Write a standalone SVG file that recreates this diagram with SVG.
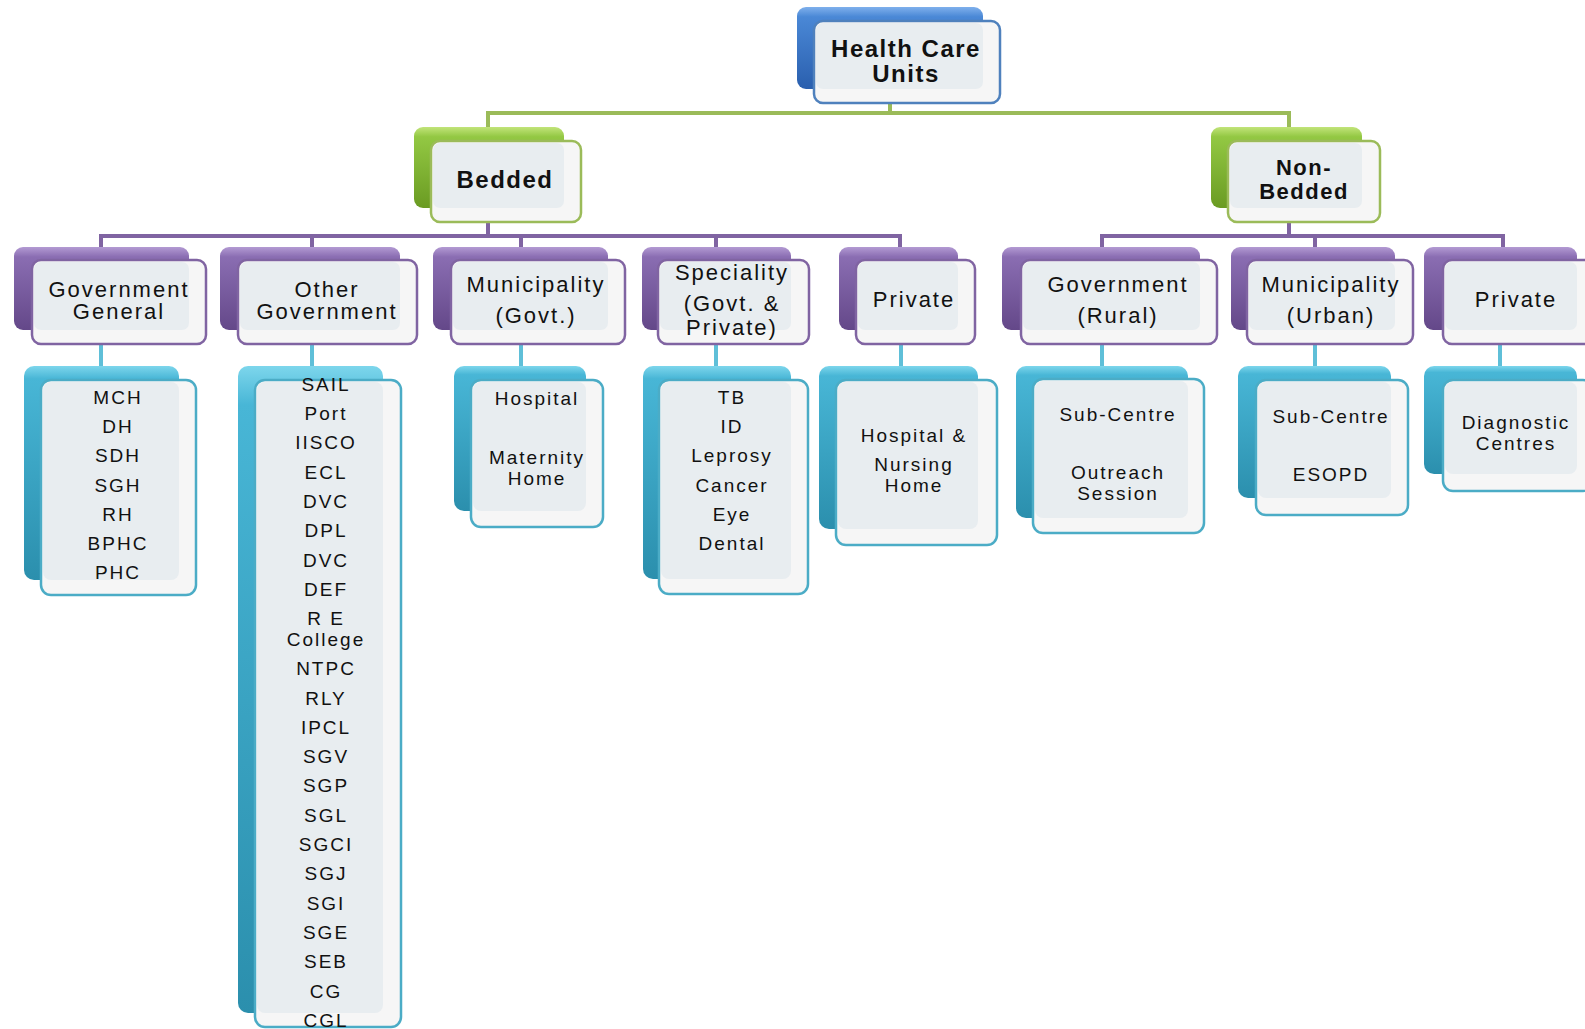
<svg xmlns="http://www.w3.org/2000/svg" width="1585" height="1029" viewBox="0 0 1585 1029">
<defs>
<linearGradient id="gBlue" x1="0" y1="0" x2="0" y2="1"><stop offset="0" stop-color="#7fb0ec"/><stop offset="0.12" stop-color="#4a88d6"/><stop offset="1" stop-color="#2a5fae"/></linearGradient>
<linearGradient id="gGreen" x1="0" y1="0" x2="0" y2="1"><stop offset="0" stop-color="#c2e47a"/><stop offset="0.12" stop-color="#93c843"/><stop offset="1" stop-color="#6a9b22"/></linearGradient>
<linearGradient id="gPurple" x1="0" y1="0" x2="0" y2="1"><stop offset="0" stop-color="#b39ad3"/><stop offset="0.12" stop-color="#8a6db2"/><stop offset="1" stop-color="#644889"/></linearGradient>
<linearGradient id="gTeal" x1="0" y1="0" x2="0" y2="1"><stop offset="0" stop-color="#7dd6ec"/><stop offset="0.06" stop-color="#48b6d6"/><stop offset="1" stop-color="#2b8fad"/></linearGradient>
</defs>
<style>
.bb{fill:url(#gBlue)} .bg{fill:url(#gGreen)} .bp{fill:url(#gPurple)} .bt{fill:url(#gTeal)}
.fr{fill:#f6f6f6;stroke-width:2.5}
.fb{stroke:#4f81bd} .fg{stroke:#9bbb59} .fp{stroke:#8064a2} .ft{stroke:#4bacc6}
.ov{fill:#e8edf0}
text{font-family:"Liberation Sans",Arial,sans-serif;text-anchor:middle;fill:#111}
.t0{font-weight:bold;font-size:24px;letter-spacing:1.5px}
.t1{font-weight:bold;font-size:22px;letter-spacing:1.5px}
.t2{font-size:22px;letter-spacing:2px}
.t3{font-size:19px;letter-spacing:2px}
.cg{stroke:#9bbb59;stroke-width:4;fill:none}
.cp{stroke:#8064a2;stroke-width:4;fill:none}
.ct{stroke:#5fbfd8;stroke-width:4;fill:none}
</style>
<rect width="1585" height="1029" fill="#ffffff"/>
<g id="connectors">
<path class="cg" d="M890,100 V113 M488,130 V113 H1289 V130"/>
<path class="cp" d="M488,220 V236 M101,250 V236 H900 V250 M312,236 V250 M521,236 V250 M716,236 V250"/>
<path class="cp" d="M1289,220 V236 M1102,250 V236 H1503 V250 M1315,236 V250"/>
<path class="ct" d="M101,342 V368 M312,342 V368 M521,342 V368 M716,342 V368 M901,342 V368 M1102,342 V368 M1315,342 V368 M1500,342 V368"/>
</g>
<g id="n-hcu">
<rect class="bb" x="797" y="7" width="186" height="82" rx="9"/>
<rect class="fr fb" x="814" y="21" width="186" height="82" rx="9"/>
<rect class="ov" x="816" y="23" width="167" height="66" rx="7"/>
<text class="t0" x="906" y="57">Health Care</text>
<text class="t0" x="906" y="82">Units</text>
</g>
<g id="n-bedded">
<rect class="bg" x="414" y="127" width="150" height="81" rx="9"/>
<rect class="fr fg" x="431" y="141" width="150" height="81" rx="9"/>
<rect class="ov" x="433" y="143" width="131" height="65" rx="7"/>
<text class="t0" x="505" y="188">Bedded</text>
</g>
<g id="n-nonbedded">
<rect class="bg" x="1211" y="127" width="151" height="81" rx="9"/>
<rect class="fr fg" x="1228" y="141" width="152" height="81" rx="9"/>
<rect class="ov" x="1230" y="143" width="132" height="65" rx="7"/>
<text class="t1" x="1304" y="175">Non-</text>
<text class="t1" x="1304" y="199">Bedded</text>
</g>
<g id="n-govgen">
<rect class="bp" x="14" y="247" width="175" height="83" rx="9"/>
<rect class="fr fp" x="32" y="260" width="174" height="84" rx="9"/>
<rect class="ov" x="34" y="262" width="155" height="68" rx="7"/>
<text class="t2" x="119" y="297">Government</text>
<text class="t2" x="119" y="319">General</text>
</g>
<g id="n-othergov">
<rect class="bp" x="220" y="247" width="180" height="83" rx="9"/>
<rect class="fr fp" x="238" y="260" width="179" height="84" rx="9"/>
<rect class="ov" x="240" y="262" width="160" height="68" rx="7"/>
<text class="t2" x="327" y="297">Other</text>
<text class="t2" x="327" y="319">Government</text>
</g>
<g id="n-munigovt">
<rect class="bp" x="433" y="247" width="175" height="83" rx="9"/>
<rect class="fr fp" x="451" y="260" width="174" height="84" rx="9"/>
<rect class="ov" x="453" y="262" width="155" height="68" rx="7"/>
<text class="t2" x="536" y="292">Municipality</text>
<text class="t2" x="536" y="323">(Govt.)</text>
</g>
<g id="n-speciality">
<rect class="bp" x="642" y="247" width="149" height="83" rx="9"/>
<rect class="fr fp" x="658" y="260" width="151" height="84" rx="9"/>
<rect class="ov" x="660" y="262" width="131" height="68" rx="7"/>
<text class="t2" x="732" y="280">Speciality</text>
<text class="t2" x="732" y="311">(Govt. &amp;</text>
<text class="t2" x="732" y="335">Private)</text>
</g>
<g id="n-private1">
<rect class="bp" x="839" y="247" width="119" height="83" rx="9"/>
<rect class="fr fp" x="856" y="260" width="119" height="84" rx="9"/>
<rect class="ov" x="858" y="262" width="100" height="68" rx="7"/>
<text class="t2" x="914" y="307">Private</text>
</g>
<g id="n-govrural">
<rect class="bp" x="1002" y="247" width="198" height="83" rx="9"/>
<rect class="fr fp" x="1021" y="260" width="196" height="84" rx="9"/>
<rect class="ov" x="1023" y="262" width="177" height="68" rx="7"/>
<text class="t2" x="1118" y="292">Government</text>
<text class="t2" x="1118" y="323">(Rural)</text>
</g>
<g id="n-muniurban">
<rect class="bp" x="1231" y="247" width="164" height="83" rx="9"/>
<rect class="fr fp" x="1247" y="260" width="166" height="84" rx="9"/>
<rect class="ov" x="1249" y="262" width="146" height="68" rx="7"/>
<text class="t2" x="1331" y="292">Municipality</text>
<text class="t2" x="1331" y="323">(Urban)</text>
</g>
<g id="n-private2">
<rect class="bp" x="1424" y="247" width="153" height="83" rx="9"/>
<rect class="fr fp" x="1443" y="260" width="150" height="84" rx="9"/>
<rect class="ov" x="1445" y="262" width="132" height="68" rx="7"/>
<text class="t2" x="1516" y="307">Private</text>
</g>
<g id="n-list-govgen">
<rect class="bt" x="24" y="366" width="155" height="214" rx="10"/>
<rect class="fr ft" x="41" y="380" width="155" height="215" rx="10"/>
<rect class="ov" x="43" y="382" width="136" height="198" rx="8"/>
<text class="t3" x="118" y="404">MCH</text>
<text class="t3" x="118" y="433">DH</text>
<text class="t3" x="118" y="462">SDH</text>
<text class="t3" x="118" y="492">SGH</text>
<text class="t3" x="118" y="521">RH</text>
<text class="t3" x="118" y="550">BPHC</text>
<text class="t3" x="118" y="579">PHC</text>
</g>
<g id="n-list-othergov">
<rect class="bt" x="238" y="366" width="145" height="647" rx="10"/>
<rect class="fr ft" x="255" y="380" width="146" height="647" rx="10"/>
<rect class="ov" x="257" y="382" width="126" height="631" rx="8"/>
<text class="t3" x="326" y="391">SAIL</text>
<text class="t3" x="326" y="420">Port</text>
<text class="t3" x="326" y="449">IISCO</text>
<text class="t3" x="326" y="479">ECL</text>
<text class="t3" x="326" y="508">DVC</text>
<text class="t3" x="326" y="537">DPL</text>
<text class="t3" x="326" y="567">DVC</text>
<text class="t3" x="326" y="596">DEF</text>
<text class="t3" x="326" y="625">R E</text>
<text class="t3" x="326" y="646">College</text>
<text class="t3" x="326" y="675">NTPC</text>
<text class="t3" x="326" y="705">RLY</text>
<text class="t3" x="326" y="734">IPCL</text>
<text class="t3" x="326" y="763">SGV</text>
<text class="t3" x="326" y="792">SGP</text>
<text class="t3" x="326" y="822">SGL</text>
<text class="t3" x="326" y="851">SGCI</text>
<text class="t3" x="326" y="880">SGJ</text>
<text class="t3" x="326" y="910">SGI</text>
<text class="t3" x="326" y="939">SGE</text>
<text class="t3" x="326" y="968">SEB</text>
<text class="t3" x="326" y="998">CG</text>
<text class="t3" x="326" y="1027">CGL</text>
</g>
<g id="n-list-muni">
<rect class="bt" x="454" y="366" width="132" height="145" rx="10"/>
<rect class="fr ft" x="471" y="380" width="132" height="147" rx="10"/>
<rect class="ov" x="473" y="382" width="113" height="129" rx="8"/>
<text class="t3" x="537" y="405">Hospital</text>
<text class="t3" x="537" y="464">Maternity</text>
<text class="t3" x="537" y="485">Home</text>
</g>
<g id="n-list-speciality">
<rect class="bt" x="643" y="366" width="148" height="213" rx="10"/>
<rect class="fr ft" x="659" y="380" width="149" height="214" rx="10"/>
<rect class="ov" x="661" y="382" width="130" height="197" rx="8"/>
<text class="t3" x="732" y="404">TB</text>
<text class="t3" x="732" y="433">ID</text>
<text class="t3" x="732" y="462">Leprosy</text>
<text class="t3" x="732" y="492">Cancer</text>
<text class="t3" x="732" y="521">Eye</text>
<text class="t3" x="732" y="550">Dental</text>
</g>
<g id="n-list-private1">
<rect class="bt" x="819" y="366" width="159" height="163" rx="10"/>
<rect class="fr ft" x="836" y="380" width="161" height="165" rx="10"/>
<rect class="ov" x="838" y="382" width="140" height="147" rx="8"/>
<text class="t3" x="914" y="442">Hospital &amp;</text>
<text class="t3" x="914" y="471">Nursing</text>
<text class="t3" x="914" y="492">Home</text>
</g>
<g id="n-list-govrural">
<rect class="bt" x="1016" y="366" width="172" height="152" rx="10"/>
<rect class="fr ft" x="1033" y="379" width="171" height="154" rx="10"/>
<rect class="ov" x="1035" y="381" width="153" height="137" rx="8"/>
<text class="t3" x="1118" y="421">Sub-Centre</text>
<text class="t3" x="1118" y="479">Outreach</text>
<text class="t3" x="1118" y="500">Session</text>
</g>
<g id="n-list-muniurban">
<rect class="bt" x="1238" y="366" width="153" height="132" rx="10"/>
<rect class="fr ft" x="1256" y="380" width="152" height="135" rx="10"/>
<rect class="ov" x="1258" y="382" width="133" height="116" rx="8"/>
<text class="t3" x="1331" y="423">Sub-Centre</text>
<text class="t3" x="1331" y="481">ESOPD</text>
</g>
<g id="n-list-private2">
<rect class="bt" x="1424" y="366" width="153" height="108" rx="10"/>
<rect class="fr ft" x="1443" y="380" width="150" height="111" rx="10"/>
<rect class="ov" x="1445" y="382" width="132" height="92" rx="8"/>
<text class="t3" x="1516" y="429">Diagnostic</text>
<text class="t3" x="1516" y="450">Centres</text>
</g>
</svg>
